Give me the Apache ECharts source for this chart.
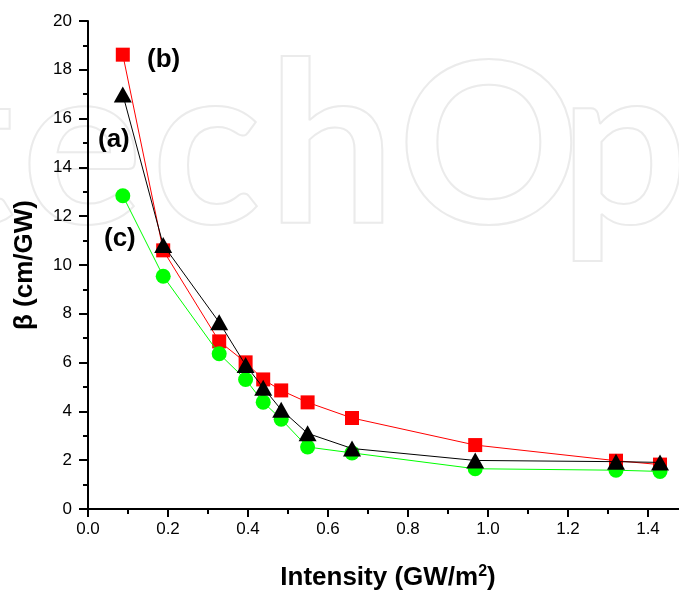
<!DOCTYPE html>
<html>
<head>
<meta charset="utf-8">
<script src="https://cdn.jsdelivr.net/npm/echarts@6/dist/echarts.min.js"></script>
<style>
html,body{margin:0;padding:0;background:#fff;}
#chart{width:679px;height:591px;}
</style>
</head>
<body>
<div id="chart"></div>
<script>
// Intensity values (GW/m^2)
var intensity = [0.087, 0.188, 0.328, 0.394, 0.438, 0.483, 0.549, 0.660, 0.968, 1.320, 1.430];
// beta (cm/GW) for each curve
var betaB = [18.62, 10.60, 6.87, 6.01, 5.31, 4.86, 4.37, 3.73, 2.62, 1.98, 1.82]; // red squares (b)
var betaA = [16.99, 10.82, 7.65, 5.90, 4.97, 4.07, 3.10, 2.48, 1.99, 1.94, 1.91]; // black triangles (a)
var betaC = [12.84, 9.54, 6.36, 5.31, 4.38, 3.68, 2.54, 2.30, 1.65, 1.59, 1.54]; // green circles (c)
var xTicks = [0.0, 0.2, 0.4, 0.6, 0.8, 1.0, 1.2, 1.4];
var yTicks = [0, 2, 4, 6, 8, 10, 12, 14, 16, 18, 20];
var watermark = ['t', 'e', 'c', 'h', 'O', 'p'];

function pairs(xs, ys){ return xs.map(function(x,i){ return [x, ys[i]]; }); }

var chart = echarts.init(document.getElementById('chart'), null, {renderer:'canvas'});
var FONT = 'Liberation Sans, Arial, sans-serif';
var wmX = [-70, 22, 152, 268, 398, 560];
var wmGraphics = watermark.map(function(ch, i){
  return {type: 'text', x: wmX[i], y: 38, z: -10, silent: true,
    style: {text: ch, font: 'bold 225px Lato, sans-serif', fill: 'rgba(0,0,0,0)', stroke: '#ebebeb', lineWidth: 2,
            verticalAlign: 'top'}};
});
var option = {
  animation: false,
  backgroundColor: '#fff',
  grid: {left: 88, top: 21, width: 600, height: 488, containLabel: false, outerBoundsMode: 'none'},
  xAxis: [{
    type: 'value', min: 0, max: 1.5, interval: 0.2,
    axisLine: {show: true, onZero: false, lineStyle: {color: '#000', width: 2}},
    axisTick: {show: true, inside: false, length: 8, lineStyle: {color: '#000', width: 2}},
    minorTick: {show: true, splitNumber: 2, length: 5, lineStyle: {color: '#000', width: 2}},
    splitLine: {show: false},
    axisLabel: {show: true, margin: 12, color: '#000', fontSize: 17, fontFamily: FONT,
      showMaxLabel: false,
      formatter: function(v){ return xTicks.indexOf(Math.round(v*10)/10) >= 0 ? v.toFixed(1) : ''; }},
    name: '{t|Intensity (GW/m}{s|2}{t|)}',
    nameLocation: 'middle', nameGap: 55,
    nameTextStyle: {rich: {
      t: {fontSize: 26, fontWeight: 'bold', fontFamily: FONT, color: '#000'},
      s: {fontSize: 16, fontWeight: 'bold', fontFamily: FONT, color: '#000', verticalAlign: 'top', padding: [0,0,12,0]}
    }}
  }, {
    type: 'value', min: 0, max: 1.5, interval: 0.2, position: 'top',
    axisLine: {show: true, lineStyle: {color: '#000', width: 2}},
    axisTick: {show: true, inside: true, length: 3, lineStyle: {color: '#000', width: 1}},
    minorTick: {show: true, splitNumber: 2, length: 3, lineStyle: {color: '#000', width: 1}},
    splitLine: {show: false},
    axisLabel: {show: false}
  }],
  yAxis: {
    type: 'value', min: 0, max: 20, interval: 2,
    axisLine: {show: true, onZero: false, lineStyle: {color: '#000', width: 2}},
    axisTick: {show: true, inside: false, length: 9, lineStyle: {color: '#000', width: 2}},
    minorTick: {show: true, splitNumber: 2, length: 5, lineStyle: {color: '#000', width: 2}},
    splitLine: {show: false},
    axisLabel: {show: true, margin: 16, color: '#000', fontSize: 17, fontFamily: FONT,
      formatter: function(v){ return yTicks.indexOf(v) >= 0 ? String(v) : ''; }},
    name: 'β (cm/GW)',
    nameLocation: 'middle', nameGap: 50, nameRotate: 90,
    nameTextStyle: {fontSize: 26, fontWeight: 'bold', fontFamily: FONT, color: '#000'}
  },
  graphic: wmGraphics.concat([
    {type: 'text', x: 147, y: 47, z: 100,
     style: {text: '(b)', font: 'bold 26px ' + FONT, fill: '#000'}},
    {type: 'text', x: 98, y: 127, z: 100,
     style: {text: '(a)', font: 'bold 26px ' + FONT, fill: '#000'}},
    {type: 'text', x: 104, y: 226, z: 100,
     style: {text: '(c)', font: 'bold 26px ' + FONT, fill: '#000'}}
  ]),
  series: [
    {type: 'line', name: '(b)', data: pairs(intensity, betaB), z: 2,
     lineStyle: {color: '#ff0000', width: 1}, itemStyle: {color: '#ff0000'},
     symbol: 'rect', symbolSize: 14, showAllSymbol: true},
    {type: 'line', name: '(c)', data: pairs(intensity, betaC), z: 3,
     lineStyle: {color: '#00ff00', width: 1}, itemStyle: {color: '#00ff00'},
     symbol: 'circle', symbolSize: 15, showAllSymbol: true},
    {type: 'line', name: '(a)', data: pairs(intensity, betaA), z: 4,
     lineStyle: {color: '#000', width: 1}, itemStyle: {color: '#000'},
     symbol: 'triangle', symbolSize: [18, 16], showAllSymbol: true}
  ]
};
chart.setOption(option);
</script>
</body>
</html>
